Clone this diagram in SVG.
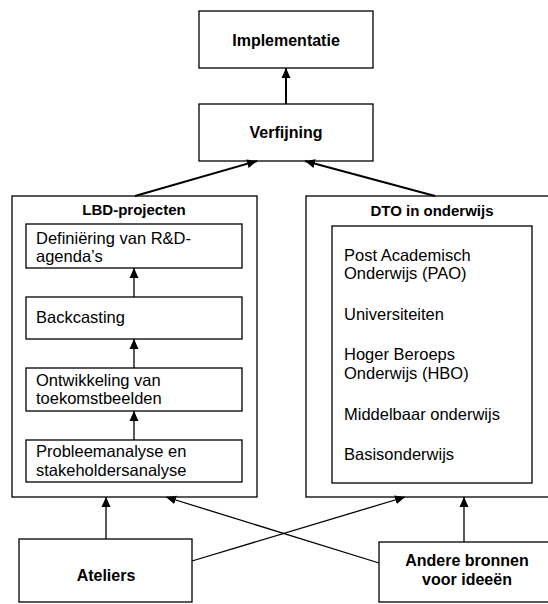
<svg xmlns="http://www.w3.org/2000/svg" width="548" height="604" viewBox="0 0 548 604">
<style>
  .box { fill: #fff; stroke: #000; stroke-width: 1.3; }
  .t { font-family: "Liberation Sans", Arial, sans-serif; font-size: 16.5px; fill: #000; }
  .b { font-family: "Liberation Sans", Arial, sans-serif; font-weight: bold; fill: #000; text-anchor: middle; }
  .c { stroke: #000; fill: none; stroke-width: 1.3; marker-end: url(#ah); }
  .thick { stroke-width: 2; }
</style>
<defs>
  <marker id="ah" markerUnits="userSpaceOnUse" markerWidth="11" markerHeight="10" refX="10" refY="5" orient="auto">
    <path d="M0,0.5 L10,5 L0,9.5 z" fill="#000"/>
  </marker>
</defs>
<rect width="548" height="604" fill="#fff"/>
<g id="implementatie">
  <rect class="box" x="199" y="11" width="174" height="57"/>
  <text class="b" x="286" y="46" font-size="16">Implementatie</text>
</g>
<g id="verfijning">
  <rect class="box" x="199" y="104" width="174" height="57"/>
  <text class="b" x="286" y="138" font-size="16">Verfijning</text>
</g>
<g id="lbd-projecten">
  <rect class="box" x="12" y="196" width="245" height="301"/>
  <text class="b" x="134" y="215" font-size="15">LBD-projecten</text>
</g>
<g id="definiering">
  <rect class="box" x="26" y="224" width="216" height="44"/>
  <text class="t" x="36" y="244">Definiëring van R&amp;D-</text>
  <text class="t" x="36" y="262">agenda’s</text>
</g>
<g id="backcasting">
  <rect class="box" x="26" y="297" width="216" height="42"/>
  <text class="t" x="36" y="323">Backcasting</text>
</g>
<g id="ontwikkeling">
  <rect class="box" x="26" y="368" width="216" height="43"/>
  <text class="t" x="36" y="386">Ontwikkeling van</text>
  <text class="t" x="36" y="404">toekomstbeelden</text>
</g>
<g id="probleemanalyse">
  <rect class="box" x="26" y="440" width="216" height="42"/>
  <text class="t" x="36" y="457">Probleemanalyse en</text>
  <text class="t" x="36" y="476">stakeholdersanalyse</text>
</g>
<g id="dto-in-onderwijs">
  <rect class="box" x="306" y="196" width="243" height="301"/>
  <text class="b" x="432" y="216" font-size="15">DTO in onderwijs</text>
</g>
<g id="onderwijs-niveaus">
  <rect class="box" x="332" y="226" width="200" height="257"/>
  <text class="t" x="344" y="261">Post Academisch</text>
  <text class="t" x="344" y="279">Onderwijs (PAO)</text>
  <text class="t" x="344" y="320">Universiteiten</text>
  <text class="t" x="344" y="360">Hoger Beroeps</text>
  <text class="t" x="344" y="379">Onderwijs (HBO)</text>
  <text class="t" x="344" y="420">Middelbaar onderwijs</text>
  <text class="t" x="344" y="460">Basisonderwijs</text>
</g>
<g id="ateliers">
  <rect class="box" x="19" y="539" width="173" height="63"/>
  <text class="b" x="106" y="581" font-size="16">Ateliers</text>
</g>
<g id="andere-bronnen">
  <rect class="box" x="379" y="542" width="172" height="60"/>
  <text class="b" x="467" y="566" font-size="16">Andere bronnen</text>
  <text class="b" x="467" y="585" font-size="16">voor ideeën</text>
</g>
<g id="connectors">
  <line class="c thick" x1="286" y1="104" x2="286" y2="68"/>
  <line class="c thick" x1="135" y1="196" x2="257" y2="161"/>
  <line class="c thick" x1="435" y1="196" x2="305" y2="161"/>
  <line class="c" x1="134" y1="297" x2="134" y2="268"/>
  <line class="c" x1="134" y1="368" x2="134" y2="339"/>
  <line class="c" x1="134" y1="440" x2="134" y2="411"/>
  <line class="c" x1="106" y1="539" x2="106" y2="497"/>
  <line class="c" x1="192" y1="561" x2="405" y2="497"/>
  <line class="c" x1="379" y1="563" x2="166" y2="497"/>
  <line class="c" x1="464" y1="542" x2="464" y2="497"/>
</g>
</svg>
